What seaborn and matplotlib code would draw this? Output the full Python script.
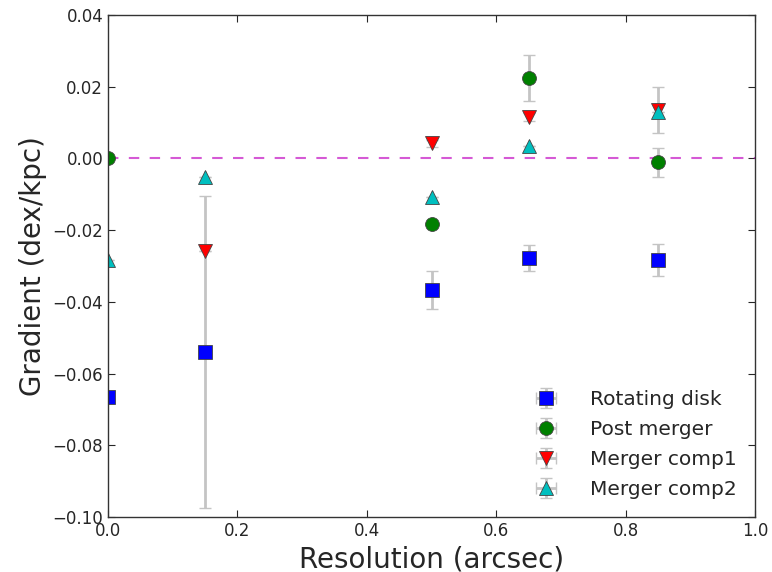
import numpy as np
import matplotlib
matplotlib.use("Agg")
import matplotlib.pyplot as plt
import seaborn as sns

# resolution (arcsec)
resolution = [0.0, 0.15, 0.5, 0.65, 0.85]

# gradients (dex/kpc) and errors
rot_disk = [-0.0665, -0.0541, -0.0367, -0.0279, -0.0284]
rot_disk_err = [0.0, 0.0435, 0.0053, 0.0036, 0.0044]

post_merger = [0.0, np.nan, -0.0182, 0.0225, -0.0011]
post_merger_err = [0.0, 0.0, 0.0, 0.0064, 0.0040]

merger_comp1 = [np.nan, -0.0258, 0.0042, 0.0115, 0.0135]
merger_comp1_err = [0.0, 0.0, 0.0010, 0.0010, 0.0065]

merger_comp2 = [-0.0284, -0.0053, -0.0107, 0.0035, 0.0130]
merger_comp2_err = [0.0, 0.0, 0.0, 0.0, 0.0]

labels = ["Rotating disk", "Post merger", "Merger comp1", "Merger comp2"]
colors = ["b", "g", "r", "c"]
markers = ["s", "o", "v", "^"]

sns.set_style("ticks")
plt.rcParams["font.family"] = ["DejaVu Sans"]
plt.rcParams["xtick.direction"] = "in"
plt.rcParams["ytick.direction"] = "in"

fig = plt.figure(figsize=(7.72, 5.72), dpi=100)
ax = fig.add_axes([0.14, 0.0962, 0.838, 0.8778])

series = [(rot_disk, rot_disk_err), (post_merger, post_merger_err),
          (merger_comp1, merger_comp1_err), (merger_comp2, merger_comp2_err)]
for (vals, errs), lab, c, m in zip(series, labels, colors, markers):
    eb = ax.errorbar(resolution, vals, yerr=errs, xerr=[0.0] * len(resolution),
                     fmt=m, color=c, mec="#444444", mew=0.6, ms=10,
                     ecolor="#c4c4c4", elinewidth=2.0, capsize=4.5, label=lab)
    for cap in eb[1]:
        cap.set_color("#555555")
        cap.set_markeredgewidth(1.0)

ax.axhline(0.0, color="m", ls="--", lw=1.5, alpha=0.65, dashes=(5, 5))

ax.set_xlim(0.0, 1.0)
ax.set_ylim(-0.10, 0.04)
ax.set_xticks(np.arange(0, 1.01, 0.2))
ax.set_yticks(np.arange(-0.10, 0.041, 0.02))
ax.xaxis.set_major_formatter(matplotlib.ticker.FuncFormatter(
    lambda v, p: f"{v:.1f}".replace("-", "\u2212")))
ax.yaxis.set_major_formatter(matplotlib.ticker.FuncFormatter(
    lambda v, p: ("%.2f" % (0.0 if abs(v) < 1e-9 else v)).replace("-", "\u2212")))
ax.tick_params(top=True, right=True, labelsize=12, length=5)
for sp in ax.spines.values():
    sp.set_linewidth(1.0)
    sp.set_color("#333333")

ax.set_xlabel("Resolution (arcsec)", fontsize=20)
ax.set_ylabel("Gradient (dex/kpc)", fontsize=20)

ax.legend(loc="lower right", frameon=False, numpoints=1, fontsize=14.5,
          handletextpad=1.2, borderaxespad=0.5, labelspacing=0.55)

fig.savefig("out.png", dpi=100)
